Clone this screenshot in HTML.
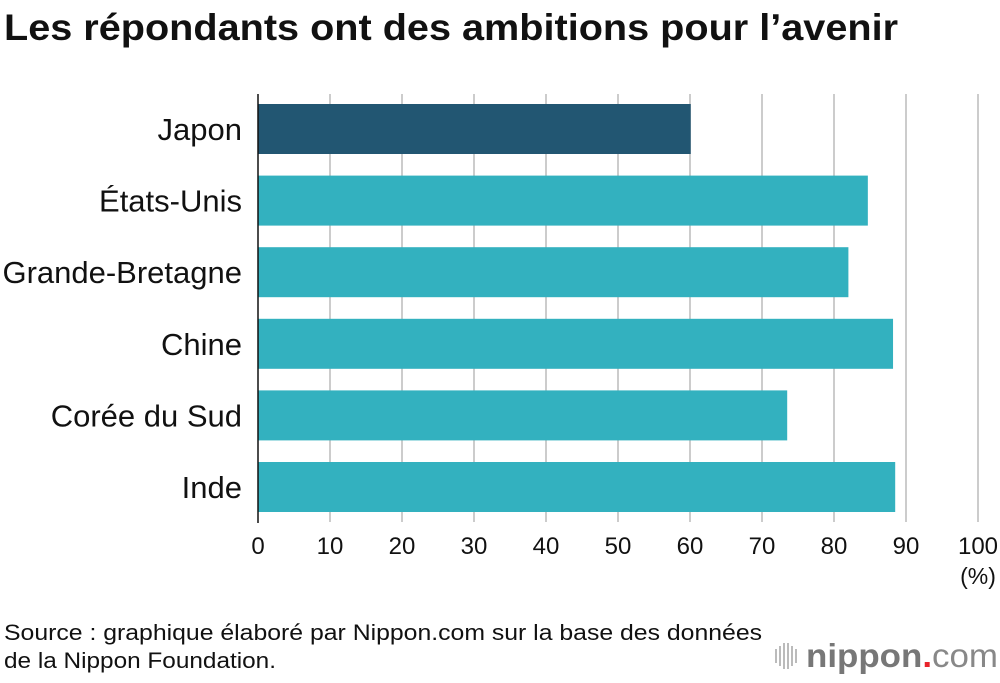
<!DOCTYPE html>
<html><head><meta charset="utf-8"><style>
body{margin:0;background:#fff;width:1000px;height:678px;overflow:hidden;font-family:"Liberation Sans",sans-serif;}
</style></head><body>
<svg width="1000" height="678" xmlns="http://www.w3.org/2000/svg">
<text x="4" y="40" font-size="37" font-weight="bold" fill="#111" textLength="894" lengthAdjust="spacingAndGlyphs">Les répondants ont des ambitions pour l’avenir</text>
<g id="grid"></g>
<g id="bars"></g>
<line x1="258" y1="94" x2="258" y2="523" stroke="#111" stroke-width="1.5"/>
<g id="ticks"></g>
<text x="978" y="584" font-size="23" text-anchor="middle" fill="#111">(%)</text>
<text x="4" y="640" font-size="22" fill="#111" textLength="758" lengthAdjust="spacingAndGlyphs">Source : graphique élaboré par Nippon.com sur la base des données</text>
<text x="4" y="668" font-size="22" fill="#111" textLength="272" lengthAdjust="spacingAndGlyphs">de la Nippon Foundation.</text>
<g>
<g fill="#bbb"><rect x="775" y="649" width="2" height="14"/><rect x="779" y="646" width="2" height="20"/><rect x="783" y="643" width="2" height="26"/><rect x="787" y="643" width="2" height="26"/><rect x="791" y="646" width="2" height="20"/><rect x="795" y="649" width="2" height="14"/></g>
<text x="806" y="667" font-size="33" fill="#777" font-weight="bold" textLength="192" lengthAdjust="spacingAndGlyphs">nippon<tspan fill="#e8232a">.</tspan><tspan font-weight="normal" fill="#888">com</tspan></text>
</g>
</svg>
<script>
const categories=["Japon","États-Unis","Grande-Bretagne","Chine","Corée du Sud","Inde"];
const values=[60.1,84.7,82.0,88.2,73.5,88.5];
const ticks=[0,10,20,30,40,50,60,70,80,90,100];
const NS="http://www.w3.org/2000/svg";
const x=v=>258+v*7.2;
const rowY=i=>104+i*71.6;
const grid=document.getElementById('grid'),bars=document.getElementById('bars'),tk=document.getElementById('ticks');
ticks.forEach(t=>{
 if(t>0){const l=document.createElementNS(NS,'line');
 l.setAttribute('x1',x(t));l.setAttribute('x2',x(t));l.setAttribute('y1',94);l.setAttribute('y2',522);
 l.setAttribute('stroke','#ccc');l.setAttribute('stroke-width','2');
 
 
 grid.appendChild(l);}
 const s=document.createElementNS(NS,'text');
 s.setAttribute('x',x(t));s.setAttribute('y',554);s.setAttribute('font-size','24');s.setAttribute('text-anchor','middle');s.setAttribute('fill','#111');
 s.textContent=t;
 
 
 tk.appendChild(s);
});
categories.forEach((c,i)=>{
 const r=document.createElementNS(NS,'rect');
 r.setAttribute('x',258);r.setAttribute('y',rowY(i));r.setAttribute('width',x(values[i])-258);r.setAttribute('height',50);
 r.setAttribute('fill',i===0?'#225672':'#33b1bf');
 
 
 bars.appendChild(r);
 const t=document.createElementNS(NS,'text');
 t.setAttribute('x',242);t.setAttribute('y',rowY(i)+36);t.setAttribute('font-size','31');t.setAttribute('text-anchor','end');t.setAttribute('fill','#111');
 t.textContent=c;
 
 
 bars.appendChild(t);
});
</script>
</body></html>
